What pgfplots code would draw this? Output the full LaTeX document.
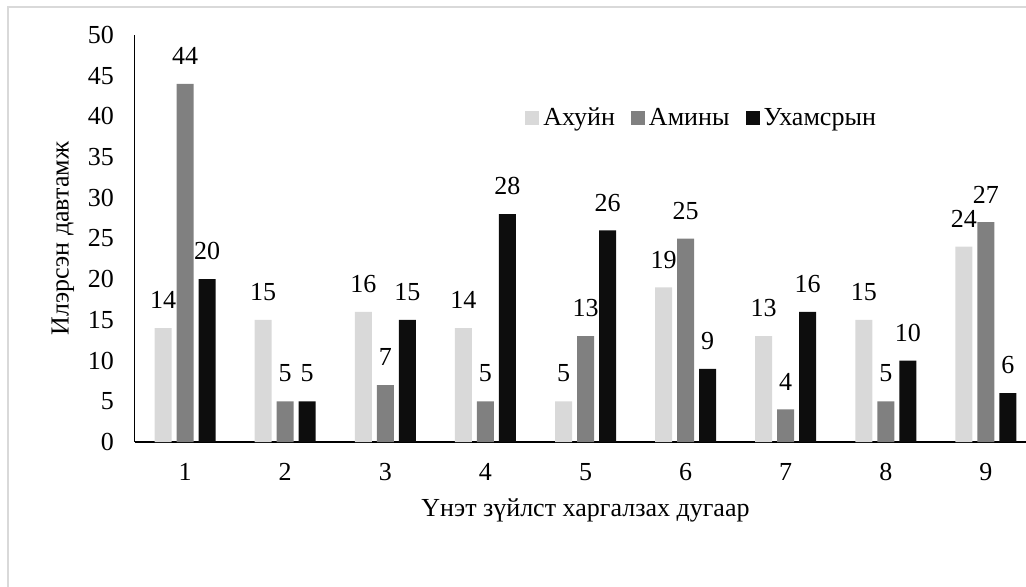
\documentclass[border=0pt]{standalone}
\usepackage{pgfplots}
\pgfplotsset{compat=1.18}
\usepackage{fontspec}
\setmainfont{Liberation Serif}
\definecolor{cLight}{HTML}{D9D9D9}
\definecolor{cMid}{HTML}{808080}
\definecolor{cDark}{HTML}{0D0D0D}
\begin{document}
\begin{tikzpicture}
\clip (-67.5pt,-72pt) rectangle (445.5pt,221pt);
% outer chart frame
\draw[cLight, line width=0.8pt] (-63.5pt,-90pt) rectangle (470pt,217.5pt);
\begin{axis}[
    at={(0,0)}, anchor=south west,
    scale only axis,
    width=450.5pt, height=203.5pt,
    ybar=2.5pt, bar width=8.5pt,
    xmin=0.5, xmax=9.5,
    ymin=0, ymax=50,
    ytick={0,5,...,50},
    xtick={1,...,9},
    axis x line*=bottom, axis y line*=left,
    x axis line style={line width=1.1pt, -},
    y axis line style={line width=0.5pt, -},
    major tick length=0pt,
    tick label style={font=\fontsize{13}{15}\selectfont},
    /pgf/number format/assume math mode=true,
    yticklabel style={xshift=-7pt},
    xticklabel style={yshift=-7pt},
    xlabel={Үнэт зүйлст харгалзах дугаар},
    ylabel={Илэрсэн давтамж},
    label style={font=\fontsize{13}{15}\selectfont},
    xlabel style={at={(axis description cs:0.5,-0.167)}, anchor=center},
    ylabel style={at={(axis description cs:-0.08,0.5)}, anchor=center},
    nodes near coords,
    every node near coord/.append style={font=\fontsize{13}{15}\selectfont, yshift=6pt, text=black},
    legend columns=-1,
    legend style={at={(0.63,0.796)}, anchor=center, draw=none, fill=none,
        font=\fontsize{13}{15}\selectfont,
        /tikz/every even column/.append style={column sep=6pt}},
    legend image code/.code={\fill[#1] (0pt,-3.5pt) rectangle (7pt,3.5pt);},
]
\addplot[fill=cLight, draw=none] coordinates {(1,14) (2,15) (3,16) (4,14) (5,5) (6,19) (7,13) (8,15) (9,24)};
\addplot[fill=cMid, draw=none] coordinates {(1,44) (2,5) (3,7) (4,5) (5,13) (6,25) (7,4) (8,5) (9,27)};
\addplot[fill=cDark, draw=none] coordinates {(1,20) (2,5) (3,15) (4,28) (5,26) (6,9) (7,16) (8,10) (9,6)};
\legend{Ахуйн, Амины, Ухамсрын}
\end{axis}
\end{tikzpicture}
\end{document}
